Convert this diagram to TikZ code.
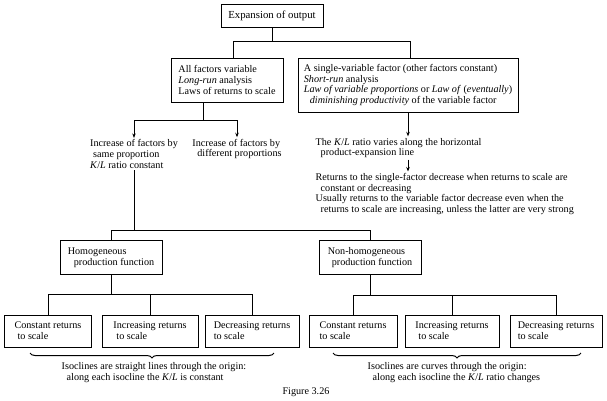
\documentclass[tikz,border=0pt]{standalone}
\usepackage{fontspec}
\setmainfont{Liberation Serif}
\usetikzlibrary{arrows.meta,decorations.pathreplacing}
\newcommand\fs{\fontsize{10.2}{10.8}\selectfont}
\tikzset{
  box/.style={draw, line width=1bp, inner xsep=0pt, inner ysep=0pt, align=left, font=\fs},
  txt/.style={inner sep=1.5bp, align=left, font=\fs},
  ln/.style={line width=1bp},
  arr/.style={line width=1bp, -{Stealth[length=4.5bp,width=3.5bp]}},
  brc/.style={line width=1bp, decorate, decoration={brace, mirror, amplitude=5bp}}
}
\begin{document}
\begin{tikzpicture}[x=1bp,y=-1bp]
\fill[white] (0,0) rectangle (607,400);
\useasboundingbox (0,0) rectangle (607,400);

% top
\node[box, align=center, minimum width=102bp, minimum height=23bp, font=\fontsize{10.8}{12}\selectfont] (top) at (272,15.5) {Expansion of output};
\node[box, minimum width=112bp, minimum height=44bp] (A) at (227,80)
  {All factors variable\\ \textit{Long-run} analysis\\ Laws of returns to scale};
\node[box, minimum width=220bp, minimum height=54bp] (B) at (408,85)
  {A single-variable factor (other factors constant)\\ \textit{Short-run} analysis\\
   \textit{Law of variable proportions} or \textit{Law of} (\textit{eventually})\\
   \hspace*{6bp}\textit{diminishing productivity} of the variable factor};

\coordinate (t1) at (272,41);
\draw[ln] (top.south) -- (t1);
\draw[ln] (A.north -| 233,0) -- (233,41) -- (410,41) -- (B.north -| 410,0);

% left branch
\node[txt] (C1) at (134,154) {Increase of factors by\\ \hspace*{3bp}same proportion\\ \textit{K}/\textit{L} ratio constant};
\node[txt] (C2) at (237,149) {Increase of factors by\\ \hspace*{5bp}different proportions};
\coordinate (sA) at (203,120);
\draw[ln] (A.south -| sA) -- (sA);
\draw[arr] (sA) -| (C1.north);
\draw[arr] (sA) -| (C2.north);

% right branch
\node[txt, anchor=west] (D1) at (314,148) {The \textit{K}/\textit{L} ratio varies along the horizontal\\ \hspace*{5bp}product-expansion line};
\node[txt, anchor=west] (D2) at (314,194) {Returns to the single-factor decrease when returns to scale are\\
  \hspace*{5bp}constant or decreasing\\
  Usually returns to the variable factor decrease even when the\\
  \hspace*{5bp}returns to scale are increasing, unless the latter are very strong};
\draw[arr] (B.south) -- (B.south |- D1.north);
\draw[arr] (B.south |- D1.south) -- (B.south |- D2.north);

% production functions
\node[box, minimum width=102bp, minimum height=34bp] (H1) at (111,257.5) {Homogeneous\\ \hspace*{6bp}production function};
\node[box, minimum width=102bp, minimum height=34bp] (H2) at (370,257.5) {Non-homogeneous\\ \hspace*{4bp}production function};
\coordinate (j1) at (134,230);
\draw[ln] (C1.south) -- (j1);
\draw[ln] (H1.north) -- (H1.north |- j1) -- (H2.north |- j1) -- (H2.north);

% bottom boxes
\node[box, minimum width=86bp, minimum height=32bp] (b1) at (48,331) {Constant returns\\ \hspace*{3bp}to scale};
\node[box, minimum width=96bp, minimum height=32bp] (b2) at (150,331) {Increasing returns\\ \hspace*{3bp}to scale};
\node[box, minimum width=94bp, minimum height=32bp] (b3) at (252,331) {Decreasing returns\\ to scale};
\node[box, minimum width=88bp, minimum height=32bp] (b4) at (353,331) {Constant returns\\ to scale};
\node[box, minimum width=94bp, minimum height=32bp] (b5) at (452,331) {Increasing returns\\ \hspace*{3bp}to scale};
\node[box, minimum width=92bp, minimum height=32bp] (b6) at (556,331) {Decreasing returns\\ to scale};

\coordinate (hb1) at (111,294);
\coordinate (hb2) at (370,295);
\draw[ln] (H1.south) -- (hb1);
\draw[ln] (H2.south) -- (hb2);
\draw[ln] (b1.north) -- (b1.north |- hb1) -- (b3.north |- hb1) -- (b3.north);
\draw[ln] (b2.north) -- (b2.north |- hb1);
\draw[ln] (b4.north) -- (b4.north |- hb2) -- (b6.north |- hb2) -- (b6.north);
\draw[ln] (b5.north) -- (b5.north |- hb2);

% braces
\coordinate (br1a) at (30,353);
\coordinate (br1b) at (274,353);
\coordinate (br2a) at (333,353);
\coordinate (br2b) at (581,353);
\draw[brc] (br1a) -- (br1b);
\draw[brc] (br2a) -- (br2b);

\node[txt, anchor=north west] (I1) at (60,361) {Isoclines are straight lines through the origin:\\ \hspace*{5bp}along each isocline the \textit{K}/\textit{L} is constant};
\node[txt, anchor=north west] (I2) at (366,361) {Isoclines are curves through the origin:\\ \hspace*{5bp}along each isocline the \textit{K}/\textit{L} ratio changes};

\node[txt] (fig) at (306,392) {Figure 3.26};
\end{tikzpicture}
\end{document}
